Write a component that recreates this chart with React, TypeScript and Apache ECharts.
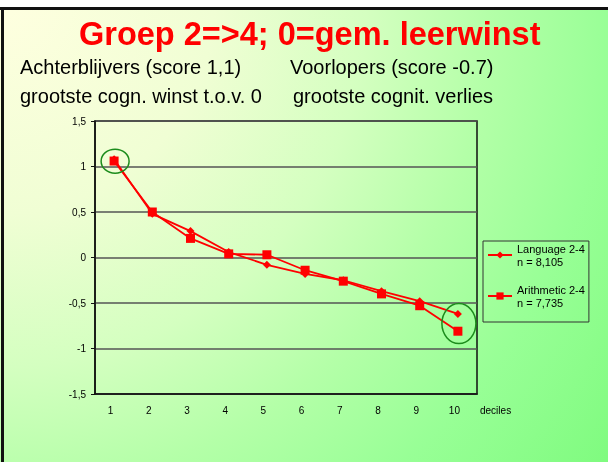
import React, { useEffect, useRef } from "react";
import * as echarts from "echarts";

const deciles = ["1", "2", "3", "4", "5", "6", "7", "8", "9", "10"];
const languageValues = [1.08, 0.48, 0.29, 0.06, -0.08, -0.18, -0.25, -0.37, -0.48, -0.62];
const arithmeticValues = [1.06, 0.5, 0.21, 0.04, 0.03, -0.14, -0.26, -0.4, -0.53, -0.81];
const seriesNames = ["Language 2-4", "Arithmetic 2-4"];
const seriesCounts = ["n = 8,105", "n = 7,735"];
const yMin = -1.5;
const yMax = 1.5;
const yStep = 0.5;

const titleText = "Groep 2=>4; 0=gem. leerwinst";
const leftLines = ["Achterblijvers (score 1,1)", "grootste cogn. winst t.o.v. 0"];
const rightLines = ["Voorlopers (score -0.7)", "grootste cognit. verlies"];

const FONT = "'Liberation Sans', Arial, Helvetica, sans-serif";

export default function App() {
  const ref = useRef<HTMLDivElement>(null);

  useEffect(() => {
    if (!ref.current) return;
    const chart = echarts.init(ref.current, undefined, { renderer: "svg" });

    const baseGraphics: any[] = [
      { type: "rect", left: 0, top: 0, shape: { width: 608, height: 7 }, style: { fill: "#ffffff" }, silent: true, z: 0 },
      { type: "rect", left: 0, top: 7, shape: { width: 608, height: 3 }, style: { fill: "#111111" }, silent: true, z: 1 },
      { type: "rect", left: 1, top: 7, shape: { width: 3, height: 455 }, style: { fill: "#111111" }, silent: true, z: 1 },
      {
        type: "text",
        left: 79,
        top: 17,
        style: { text: titleText, fill: "#ff0000", font: `bold 32.5px ${FONT}` },
        z: 2,
      },
      { type: "text", left: 20, top: 57, style: { text: leftLines[0], fill: "#000", font: `20px ${FONT}` }, z: 2 },
      { type: "text", left: 20, top: 86, style: { text: leftLines[1], fill: "#000", font: `20px ${FONT}` }, z: 2 },
      { type: "text", left: 290, top: 57, style: { text: rightLines[0], fill: "#000", font: `20px ${FONT}` }, z: 2 },
      { type: "text", left: 293, top: 86, style: { text: rightLines[1], fill: "#000", font: `20px ${FONT}` }, z: 2 },
    ];

    const option: any = {
      animation: false,
      backgroundColor: "transparent",
      textStyle: { fontFamily: FONT },
      grid: {
        left: 95,
        top: 121,
        right: 131,
        bottom: 68,
        show: true,
        borderColor: "#111",
        borderWidth: 1.5,
        backgroundColor: "transparent",
      },
      legend: {
        orient: "vertical",
        left: 483,
        top: 241,
        padding: [-5.5, 4, 6.5, 4],
        itemGap: 2,
        itemWidth: 24,
        itemHeight: 9,
        borderColor: "#333",
        borderWidth: 1,
        data: seriesNames,
        formatter: (name: string) => `${name}\n${seriesCounts[seriesNames.indexOf(name)]}`,
        textStyle: { fontSize: 11, color: "#000", lineHeight: 13, padding: [13, 0, 0, 0], fontFamily: FONT },
      },
      xAxis: {
        type: "category",
        data: deciles,
        boundaryGap: true,
        name: "deciles",
        nameLocation: "end",
        nameGap: 3,
        nameTextStyle: { fontSize: 10, color: "#000", verticalAlign: "top", padding: [11, 0, 0, 0] },
        axisLine: { onZero: false, lineStyle: { color: "#111", width: 1.5 } },
        axisTick: { alignWithLabel: true, length: 4, lineStyle: { color: "#111" } },
        axisLabel: { fontSize: 10, color: "#000", margin: 11, padding: [0, 7, 0, 0] },
        splitLine: { show: false },
      },
      yAxis: {
        type: "value",
        min: yMin,
        max: yMax,
        interval: yStep,
        axisLine: { show: true, onZero: false, lineStyle: { color: "#111", width: 1.5 } },
        axisTick: { show: true, length: 4, lineStyle: { color: "#111" } },
        axisLabel: {
          fontSize: 10,
          color: "#000",
          margin: 9,
          formatter: (v: number) => String(v).replace(".", ","),
        },
        splitLine: { show: true, lineStyle: { color: "#555", width: 1.5 } },
      },
      series: [
        {
          name: seriesNames[0],
          type: "line",
          data: languageValues,
          symbol: "diamond",
          symbolSize: 8,
          itemStyle: { color: "#ff0000" },
          lineStyle: { color: "#ff0000", width: 1.8 },
          z: 3,
        },
        {
          name: seriesNames[1],
          type: "line",
          data: arithmeticValues,
          symbol: "rect",
          symbolSize: 9,
          itemStyle: { color: "#ff0000" },
          lineStyle: { color: "#ff0000", width: 1.8 },
          z: 4,
        },
      ],
      graphic: baseGraphics,
    };

    chart.setOption(option);

    const p1 = chart.convertToPixel({ xAxisIndex: 0, yAxisIndex: 0 }, [
      0,
      (languageValues[0] + arithmeticValues[0]) / 2,
    ]) as number[];
    const last = deciles.length - 1;
    const p10 = chart.convertToPixel({ xAxisIndex: 0, yAxisIndex: 0 }, [
      last,
      (languageValues[last] + arithmeticValues[last]) / 2,
    ]) as number[];

    chart.setOption({
      graphic: [
        ...baseGraphics,
        {
          type: "ellipse",
          shape: { cx: p1[0] + 1, cy: p1[1] + 1, rx: 14, ry: 12 },
          style: { fill: "none", stroke: "#1c8c1c", lineWidth: 1.5 },
          z: 10,
        },
        {
          type: "ellipse",
          shape: { cx: p10[0] + 1, cy: p10[1] + 1, rx: 17, ry: 20 },
          style: { fill: "none", stroke: "#1c8c1c", lineWidth: 1.5 },
          z: 10,
        },
      ],
    });

    return () => chart.dispose();
  }, []);

  return (
    <div
      ref={ref}
      style={{
        position: "fixed",
        left: 0,
        top: 0,
        width: 608,
        height: 462,
        background:
          "radial-gradient(circle 765px at 0px 0px, #ffffe0 0%, #f0fed4 28%, #d4ffc0 48%, #b4ffa8 64%, #98ff96 80%, #7ffb7f 100%)",
      }}
    />
  );
}
